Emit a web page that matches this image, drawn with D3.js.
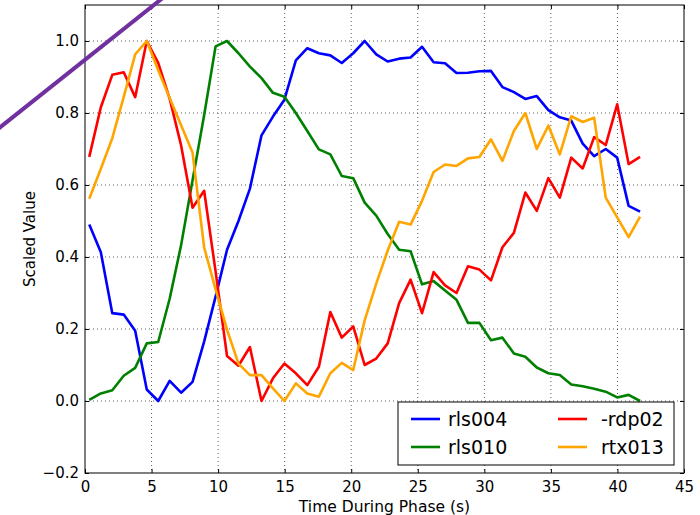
<!DOCTYPE html>
<html>
<head>
<meta charset="utf-8">
<script src="https://cdn.jsdelivr.net/npm/d3@7"></script>
<style>
  body { margin: 0; background: #fff; }
  svg { display: block; font-family: 'DejaVu Sans', sans-serif; }
  .tick text { fill: #000; }
</style>
</head>
<body>
<div id="chart"></div>
<script>
// data
const times = [0.32, 1.19, 2.05, 2.91, 3.77, 4.64, 5.50, 6.36, 7.22, 8.08, 8.95, 9.81,
  10.67, 11.53, 12.39, 13.26, 14.12, 14.98, 15.84, 16.70, 17.57, 18.43, 19.29, 20.15,
  21.01, 21.88, 22.74, 23.60, 24.46, 25.32, 26.19, 27.05, 27.91, 28.77, 29.63, 30.50,
  31.36, 32.22, 33.08, 33.94, 34.81, 35.67, 36.53, 37.39, 38.25, 39.12, 39.98, 40.84, 41.70];

const rls004 = [0.49, 0.413, 0.244, 0.24, 0.195, 0.032, 0.0, 0.056, 0.023, 0.053, 0.165, 0.29,
  0.42, 0.50, 0.59, 0.738, 0.79, 0.837, 0.946, 0.98, 0.966, 0.96, 0.939, 0.966,
  1.0, 0.963, 0.943, 0.951, 0.954, 0.984, 0.941, 0.938, 0.911, 0.912, 0.916, 0.917,
  0.872, 0.858, 0.839, 0.847, 0.808, 0.788, 0.779, 0.715, 0.68, 0.70, 0.676, 0.542, 0.526];

const rls010 = [0.003, 0.021, 0.03, 0.07, 0.092, 0.16, 0.164, 0.284, 0.433, 0.613, 0.794, 0.985,
  1.0, 0.966, 0.929, 0.897, 0.856, 0.845, 0.80, 0.75, 0.699, 0.685, 0.625, 0.619,
  0.551, 0.515, 0.464, 0.42, 0.416, 0.324, 0.333, 0.307, 0.281, 0.217, 0.217, 0.169,
  0.176, 0.132, 0.123, 0.093, 0.077, 0.072, 0.046, 0.041, 0.034, 0.026, 0.01, 0.017, 0.0];

const rdp02 = [0.678, 0.816, 0.906, 0.913, 0.844, 1.0, 0.939, 0.84, 0.71, 0.537, 0.584, 0.36,
  0.125, 0.098, 0.15, 0.0, 0.063, 0.104, 0.077, 0.044, 0.095, 0.247, 0.176, 0.207,
  0.10, 0.118, 0.16, 0.272, 0.337, 0.244, 0.358, 0.321, 0.30, 0.374, 0.365, 0.335,
  0.427, 0.467, 0.579, 0.528, 0.619, 0.565, 0.676, 0.646, 0.733, 0.711, 0.824, 0.658, 0.678];

const rtx013 = [0.562, 0.645, 0.73, 0.845, 0.963, 1.0, 0.919, 0.842, 0.766, 0.69, 0.427, 0.31,
  0.198, 0.104, 0.072, 0.072, 0.035, 0.0, 0.049, 0.021, 0.012, 0.077, 0.106, 0.086,
  0.224, 0.326, 0.418, 0.498, 0.49, 0.556, 0.636, 0.657, 0.653, 0.674, 0.678, 0.727,
  0.667, 0.75, 0.80, 0.70, 0.765, 0.685, 0.791, 0.775, 0.787, 0.565, 0.51, 0.455, 0.512];

const seriesNames = ['rls004', 'rls010', '-rdp02', 'rtx013'];
const seriesValues = [rls004, rls010, rdp02, rtx013];
const seriesColors = ['#0000ff', '#008000', '#ff0000', '#ffa500'];

const xTicks = [0, 5, 10, 15, 20, 25, 30, 35, 40, 45];
const yTicks = [-0.2, 0, 0.2, 0.4, 0.6, 0.8, 1.0];

// stray diagonal stroke seen on the figure (data coords)
const diagonal = [[-7, 0.742], [6.5, 1.139]];

// dimensions
const WIDTH = 700;
const HEIGHT = 515;
const MARGIN_TOP = 5;
const MARGIN_BOTTOM = 42;
const MARGIN_LEFT = 85;
const MARGIN_RIGHT = 16;
const TICK_FONT = 15;

const $svg = d3.select('#chart').append('svg')
  .attr('width', WIDTH)
  .attr('height', HEIGHT);

const scaleX = d3.scaleLinear().domain([0, 45]).range([MARGIN_LEFT, WIDTH - MARGIN_RIGHT]);
const scaleY = d3.scaleLinear().domain([-0.2, 1.1]).range([HEIGHT - MARGIN_BOTTOM, MARGIN_TOP]);

const x0 = scaleX.range()[0];
const x1 = scaleX.range()[1];
const yB = scaleY.range()[0];
const yT = scaleY.range()[1];

// grid
const $grid = $svg.append('g').attr('class', 'g-grid')
  .attr('stroke', '#333').attr('stroke-width', 0.8).attr('stroke-dasharray', '1,3');
$grid.selectAll('.gx').data(xTicks.slice(1, -1)).join('line')
  .attr('x1', (d) => scaleX(d)).attr('x2', (d) => scaleX(d))
  .attr('y1', yT).attr('y2', yB);
$grid.selectAll('.gy').data(yTicks.slice(1)).join('line')
  .attr('y1', (d) => scaleY(d)).attr('y2', (d) => scaleY(d))
  .attr('x1', x0).attr('x2', x1);

// lines
const line = d3.line()
  .x((d, i) => scaleX(times[i]))
  .y((d) => scaleY(d));

$svg.append('g').attr('class', 'g-vis')
  .selectAll('path').data(seriesValues).join('path')
  .attr('d', line)
  .attr('fill', 'none')
  .attr('stroke', (d, i) => seriesColors[i])
  .attr('stroke-width', 2.6)
  .attr('stroke-linejoin', 'round');

// axes (ticks point inward, classic style)
const fmtY = d3.format('.1f');
const styleAxis = ($g) => {
  $g.select('.domain').remove();
  $g.selectAll('.tick line').attr('stroke', '#000');
  $g.selectAll('.tick text').attr('font-size', TICK_FONT).attr('font-family', 'DejaVu Sans');
};

$svg.append('g').attr('transform', `translate(0,${yB})`)
  .call(d3.axisBottom(scaleX).tickValues(xTicks).tickSize(-4).tickPadding(8))
  .call(styleAxis);
$svg.append('g').attr('transform', `translate(0,${yT})`)
  .call(d3.axisTop(scaleX).tickValues(xTicks).tickSize(-4).tickFormat(''))
  .call(styleAxis);
$svg.append('g').attr('transform', `translate(${x0},0)`)
  .call(d3.axisLeft(scaleY).tickValues(yTicks).tickSize(-4).tickPadding(6).tickFormat(fmtY))
  .call(styleAxis);
$svg.append('g').attr('transform', `translate(${x1},0)`)
  .call(d3.axisRight(scaleY).tickValues(yTicks).tickSize(-4).tickFormat(''))
  .call(styleAxis);

// frame
$svg.append('rect')
  .attr('x', x0).attr('y', yT)
  .attr('width', x1 - x0).attr('height', yB - yT)
  .attr('fill', 'none').attr('stroke', '#000').attr('stroke-width', 1);

// axis titles
$svg.append('text')
  .attr('x', (x0 + x1) / 2).attr('y', 512)
  .attr('text-anchor', 'middle').attr('font-size', 15.5)
  .text('Time During Phase (s)');
$svg.append('text')
  .attr('transform', `translate(35,${(yT + yB) / 2}) rotate(-90)`)
  .attr('text-anchor', 'middle').attr('font-size', 15)
  .text('Scaled Value');

// legend
const $legend = $svg.append('g').attr('class', 'g-legend').attr('transform', 'translate(398,402)');
$legend.append('rect')
  .attr('width', 276).attr('height', 63)
  .attr('fill', '#fff').attr('stroke', '#000').attr('stroke-width', 1);
const $items = $legend.selectAll('.item').data(seriesNames).join('g')
  .attr('class', 'item')
  .attr('transform', (d, i) => `translate(${i < 2 ? 13 : 160},${i % 2 === 0 ? 17 : 45})`);
$items.append('line')
  .attr('x1', 0).attr('x2', 29)
  .attr('stroke', (d, i) => seriesColors[i]).attr('stroke-width', 2.6);
$items.append('text')
  .attr('x', (d, i) => (i < 2 ? 37 : 43)).attr('dy', '0.36em')
  .attr('font-size', 19)
  .text((d) => d);

// diagonal stroke over the top-left corner
$svg.append('path')
  .datum(diagonal)
  .attr('d', d3.line().x((d) => scaleX(d[0])).y((d) => scaleY(d[1])))
  .attr('stroke', '#7030a0').attr('stroke-width', 4).attr('fill', 'none');
</script>
</body>
</html>
